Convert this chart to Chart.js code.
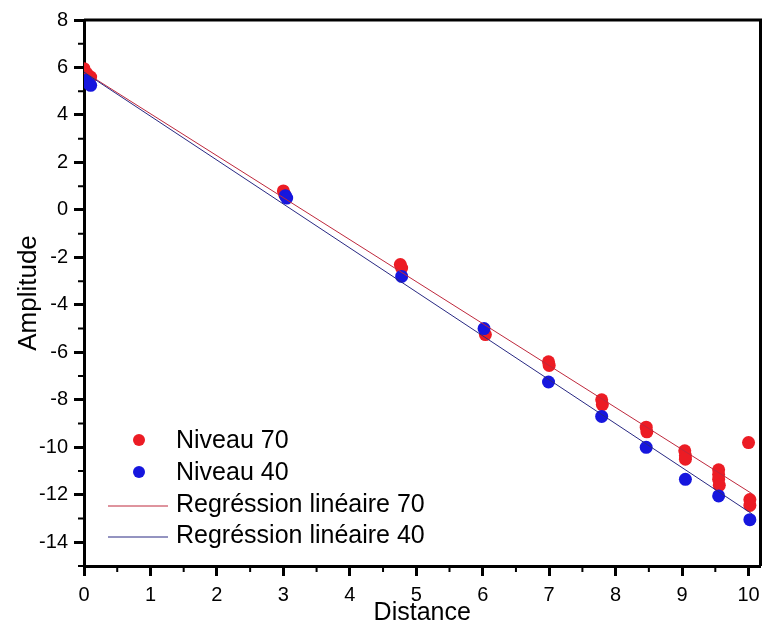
<!DOCTYPE html>
<html><head><meta charset="utf-8">
<script src="https://cdn.jsdelivr.net/npm/chart.js@4.4.1/dist/chart.umd.min.js"></script>
<style>html,body{margin:0;padding:0;background:#fff}</style>
</head><body>
<canvas id="c" width="767" height="630"></canvas>
<script>
// ---- data ----
const xTickValues = [0,1,2,3,4,5,6,7,8,9,10];
const yTickValues = [-14,-12,-10,-8,-6,-4,-2,0,2,4,6,8];
const xMinorTicks = [0.5,1.5,2.5,3.5,4.5,5.5,6.5,7.5,8.5,9.5];
const yMinorTicks = [-15,-13,-11,-9,-7,-5,-3,-1,1,3,5,7];

const niveau70X = [0,0.04,0.1,3.0,3.02,4.76,4.78,6.04,6.99,7.0,7.79,7.8,8.46,8.47,9.04,9.05,9.05,9.55,9.55,9.55,9.56,10.0,10.02,10.02];
const niveau70Y = [5.95,5.75,5.6,0.8,0.65,-2.3,-2.45,-5.25,-6.4,-6.55,-8.0,-8.2,-9.15,-9.35,-10.15,-10.35,-10.5,-10.95,-11.15,-11.35,-11.6,-9.8,-12.2,-12.45];

const niveau40X = [0.03,0.08,0.1,3.03,3.05,4.78,6.02,6.99,7.79,8.46,9.05,9.55,10.02];
const niveau40Y = [5.45,5.3,5.25,0.6,0.5,-2.8,-5.0,-7.25,-8.7,-10.0,-11.35,-12.05,-13.05];

const reg70X = [0,10.05];
const reg70Y = [5.82,-11.95];
const reg40X = [0,10.05];
const reg40Y = [5.8,-12.8];

const seriesLabels = ['Niveau 70','Niveau 40','Regréssion linéaire 70','Regréssion linéaire 40'];
const xTitle = 'Distance';
const yTitle = 'Amplitude';

const pts = (xs, ys) => xs.map((x,i)=>({x, y: ys[i]}));
const FONT = "'Liberation Sans', Arial, sans-serif";

const RED = 'rgb(236,28,36)';
const BLUE = 'rgb(22,22,222)';
const RED_LINE = 'rgb(190,40,60)';
const BLUE_LINE = 'rgb(40,40,130)';

const framePlugin = {
  id: 'frame',
  afterDraw(chart) {
    const {ctx, chartArea: a, scales} = chart;
    const xs = scales.x, ys = scales.y;
    ctx.save();
    ctx.strokeStyle = '#000';
    ctx.lineWidth = 3;
    ctx.beginPath();
    ctx.moveTo(a.left, a.top);
    ctx.lineTo(a.right, a.top);
    ctx.lineTo(a.right, a.bottom);
    ctx.stroke();
    ctx.lineWidth = 2;
    ctx.beginPath();
    xMinorTicks.forEach(v => {
      const px = xs.getPixelForValue(v);
      ctx.moveTo(px, a.bottom); ctx.lineTo(px, a.bottom + 6);
    });
    yMinorTicks.forEach(v => {
      const py = ys.getPixelForValue(v);
      ctx.moveTo(a.left, py); ctx.lineTo(a.left - 6, py);
    });
    ctx.stroke();
    // legend
    const rows = [441, 473, 505, 536];
    ctx.font = '25px ' + FONT;
    ctx.textBaseline = 'middle';
    ctx.textAlign = 'left';
    [0,1,2,3].forEach((idx, r) => {
      const ds = chart.data.datasets.find(d => d.legendIndex === idx);
      const y = rows[r];
      if (ds.showLine) {
        ctx.strokeStyle = ds.borderColor;
        ctx.lineWidth = 1;
        ctx.beginPath(); ctx.moveTo(108, y + 1); ctx.lineTo(168, y + 1); ctx.stroke();
      } else {
        ctx.fillStyle = ds.backgroundColor;
        ctx.beginPath(); ctx.arc(139, y - 1, 6, 0, Math.PI*2); ctx.fill();
      }
      ctx.fillStyle = '#000';
      ctx.fillText(ds.label, 176, y);
    });
    ctx.restore();
  }
};

new Chart(document.getElementById('c'), {
  type: 'scatter',
  data: {
    datasets: [
      { label: seriesLabels[2], legendIndex: 2, type: 'line', data: pts(reg70X, reg70Y), showLine: true,
        borderColor: RED_LINE, borderWidth: 1, pointRadius: 0, order: 1 },
      { label: seriesLabels[3], legendIndex: 3, type: 'line', data: pts(reg40X, reg40Y), showLine: true,
        borderColor: BLUE_LINE, borderWidth: 1, pointRadius: 0, order: 0 },
      { label: seriesLabels[1], legendIndex: 1, data: pts(niveau40X, niveau40Y), showLine: false,
        backgroundColor: BLUE, borderColor: BLUE, pointRadius: 6.5, borderWidth: 0, order: 2 },
      { label: seriesLabels[0], legendIndex: 0, data: pts(niveau70X, niveau70Y), showLine: false,
        backgroundColor: RED, borderColor: RED, pointRadius: 6.5, borderWidth: 0, order: 3 }
    ]
  },
  options: {
    responsive: false,
    animation: false,
    layout: { padding: { top: 20, right: 4, left: 0, bottom: 0 } },
    plugins: { legend: { display: false }, tooltip: { enabled: false } },
    scales: {
      x: {
        type: 'linear', min: 0, max: 10.18,
        afterBuildTicks: s => { s.ticks = xTickValues.map(v => ({value: v})); },
        afterFit: s => { s.height = 64; },
        ticks: { color: '#000', font: { family: FONT, size: 20 }, padding: 7, maxRotation: 0, autoSkip: false },
        grid: { drawOnChartArea: false, tickLength: 10, tickWidth: 3, tickColor: '#000' },
        border: { color: '#000', width: 3 },
        title: { display: true, text: xTitle, color: '#000', font: { family: FONT, size: 25 }, padding: { top: 0, bottom: 2 } }
      },
      y: {
        type: 'linear', min: -15, max: 8,
        afterBuildTicks: s => { s.ticks = yTickValues.map(v => ({value: v})); },
        afterFit: s => { s.width = 84; },
        ticks: { color: '#000', font: { family: FONT, size: 20 }, padding: 6, autoSkip: false,
          callback: v => (v < 0 ? '-' + Math.abs(v) : '' + v) },
        grid: { drawOnChartArea: false, tickLength: 10, tickWidth: 3, tickColor: '#000' },
        border: { color: '#000', width: 3 },
        title: { display: true, text: yTitle, color: '#000', font: { family: FONT, size: 26 }, padding: { top: 13, bottom: 0 } }
      }
    }
  },
  plugins: [framePlugin]
});
</script>
</body></html>
